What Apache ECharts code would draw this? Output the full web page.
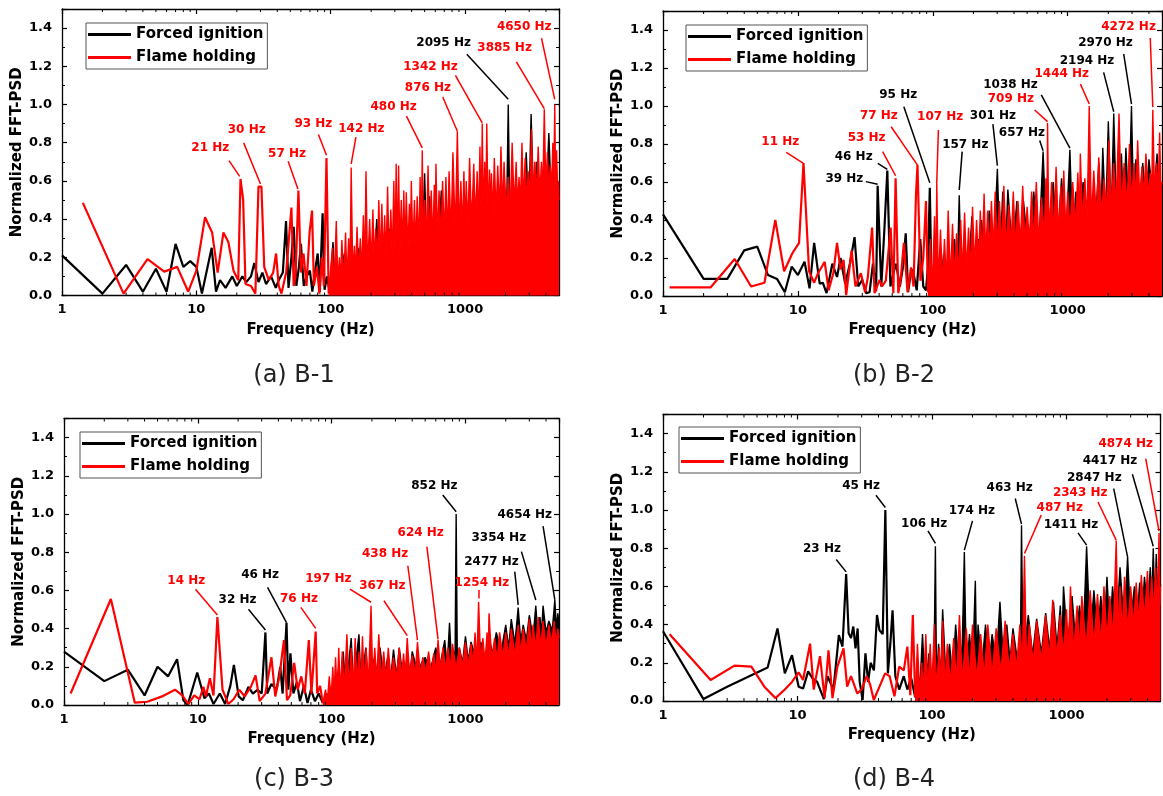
<!DOCTYPE html>
<html><head><meta charset="utf-8">
<script src="https://cdn.jsdelivr.net/npm/echarts@6/dist/echarts.min.js"></script>
<style>html,body{margin:0;padding:0;background:#fff}#c{width:1163px;height:796px}</style>
</head><body><div id="c"></div>
<script>
// ---------------- DATA ----------------
const seriesNames = ['Forced ignition', 'Flame holding'];
const xTickLabels = [1, 10, 100, 1000];
const xMinorTicks = [2,3,4,5,6,7,8,9,20,30,40,50,60,70,80,90,200,300,400,500,600,700,800,900,2000,3000,4000];
const captions = ['(a) B-1', '(b) B-2', '(c) B-3', '(d) B-4'];

// (a) B-1
const aBlackLow = [[1,0.21],[2,0.01],[3,0.16],[4,0.02],[5,0.14],[6,0.02],[7,0.27],[8,0.15],[9,0.18],[10,0.15],[11,0.01],[13,0.25],[14,0.02],[15,0.08],[16.5,0.04],[18.5,0.1],[20,0.05],[22,0.1],[23.5,0.07],[25.5,0.1],[27,0.17],[29,0.07],[31,0.12],[33,0.06],[36,0.1],[39,0.04],[41,0.08],[44,0.12],[46.5,0.39],[48.5,0.04],[51,0.2],[53,0.36],[55.5,0.05],[58,0.15],[60,0.27],[63,0.05],[66,0.1],[70,0.13],[73,0.02],[76,0.12],[80,0.22],[83,0.02],[87,0.43],[90,0.03],[94,0.1],[98,0.02]];
const aBlackHi = [[98,0.02],[104,0.28],[108,0.03],[113,0.15],[118,0.04],[126,0.22],[132,0.05],[140,0.18],[148,0.06],[160,0.25],[168,0.07],[176,0.3],[186,0.08],[198,0.22],[208,0.09],[220,0.4],[232,0.1],[245,0.28],[258,0.12],[272,0.35],[290,0.13],[310,0.3],[330,0.14],[352,0.36],[375,0.16],[400,0.33],[425,0.17],[450,0.4],[475,0.18],[500,0.64],[520,0.19],[545,0.52],[570,0.2],[600,0.53],[630,0.21],[665,0.55],[700,0.22],[760,0.45],[820,0.24],[900,0.48],[960,0.25],[1010,0.5],[1080,0.27],[1160,0.58],[1240,0.29],[1330,0.5],[1420,0.3],[1520,0.55],[1620,0.32],[1750,0.5],[1850,0.34],[1960,0.58],[2030,0.36],[2095,1.0],[2160,0.37],[2260,0.62],[2400,0.38],[2550,0.55],[2700,0.4],[2850,0.75],[2980,0.42],[3100,0.95],[3250,0.44],[3400,0.7],[3600,0.45],[3800,0.65],[4000,0.47],[4200,0.85],[4400,0.48],[4550,0.65],[4750,0.5],[5000,0.55]];
const aRedLow = [[1.43,0.485],[2.87,0.01],[4.33,0.19],[5.77,0.125],[7.2,0.15],[8.7,0.02],[10,0.13],[11.6,0.41],[13.1,0.33],[14.4,0.12],[15.9,0.33],[17.3,0.28],[18.9,0.13],[20.5,0.08],[21.3,0.61],[22.3,0.5],[23.2,0.06],[25.5,0.05],[27.5,0.01],[29,0.57],[30.5,0.57],[32,0.15],[34.6,0.08],[37.3,0.12],[39.2,0.22],[41,0.05],[43,0.01],[46.6,0.12],[51,0.46],[53,0.05],[54.7,0.1],[57.5,0.55],[60,0.12],[62.8,0.22],[66,0.05],[69.6,0.33],[72.6,0.445],[75,0.05],[79,0.15],[82.4,0.01],[86,0.2],[89,0.05],[93,0.72],[96.5,0.01]];
const aRedHi = [[96.5,0.01],[103,0.25],[106,0.05],[110,0.39],[113,0.06],[116,0.2],[118,0.05],[121,0.29],[125,0.07],[129,0.33],[132,0.08],[136,0.3],[139,0.09],[142,0.67],[146,0.1],[150,0.26],[153,0.1],[157,0.36],[161,0.11],[166,0.3],[170,0.12],[175,0.42],[179,0.13],[183,0.65],[188,0.14],[195,0.4],[200,0.15],[206,0.45],[211,0.16],[216,0.35],[222,0.17],[228,0.5],[234,0.17],[240,0.48],[246,0.18],[252,0.42],[258,0.18],[265,0.57],[272,0.19],[280,0.45],[287,0.2],[295,0.6],[301,0.2],[307,0.69],[313,0.21],[320,0.68],[327,0.21],[335,0.5],[342,0.22],[350,0.55],[357,0.22],[365,0.54],[375,0.23],[385,0.48],[391,0.23],[398,0.6],[409,0.24],[420,0.5],[430,0.24],[440,0.52],[452,0.25],[463,0.62],[471,0.25],[480,0.76],[490,0.26],[500,0.5],[515,0.26],[530,0.68],[545,0.27],[560,0.55],[575,0.27],[590,0.58],[598,0.28],[607,0.69],[623,0.28],[640,0.55],[660,0.29],[680,0.6],[700,0.3],[720,0.62],[740,0.3],[760,0.65],[786,0.31],[812,0.75],[845,0.32],[876,0.86],[903,0.33],[930,0.6],[955,0.33],[980,0.65],[1000,0.34],[1020,0.6],[1050,0.35],[1080,0.72],[1120,0.36],[1160,0.69],[1195,0.37],[1230,0.65],[1260,0.38],[1290,0.78],[1316,0.38],[1342,0.9],[1370,0.39],[1400,0.7],[1425,0.39],[1450,0.9],[1485,0.4],[1520,0.66],[1545,0.4],[1570,0.64],[1610,0.41],[1650,0.72],[1700,0.42],[1750,0.68],[1800,0.43],[1850,0.78],[1900,0.43],[1950,0.7],[2020,0.44],[2095,0.62],[2170,0.45],[2240,0.8],[2320,0.46],[2400,0.7],[2460,0.46],[2520,0.62],[2580,0.47],[2650,0.8],[2720,0.48],[2800,0.72],[2870,0.48],[2950,0.65],[3030,0.5],[3120,0.87],[3210,0.5],[3300,0.7],[3400,0.52],[3500,0.78],[3600,0.52],[3700,0.7],[3790,0.54],[3885,0.975],[3990,0.55],[4100,0.75],[4200,0.55],[4300,0.68],[4400,0.55],[4500,0.8],[4570,0.56],[4650,1.0],[4720,0.56],[4800,0.76],[4880,0.56],[4950,0.6],[5000,0.5]];
const aNotes = [['21 Hz','r',21],['30 Hz','r',30],['57 Hz','r',57],['93 Hz','r',93],['142 Hz','r',142],['480 Hz','r',480],['876 Hz','r',876],['1342 Hz','r',1342],['2095 Hz','k',2095],['3885 Hz','r',3885],['4650 Hz','r',4650]];

// (b) B-2
const bBlackLow = [[1,0.43],[2,0.09],[3,0.09],[4,0.24],[5,0.26],[6,0.11],[7,0.09],[8,0.02],[9,0.155],[10,0.11],[11.2,0.18],[12.2,0.04],[13.2,0.28],[14.5,0.065],[15.3,0.07],[16.3,0.015],[18,0.17],[19.5,0.1],[20.7,0.2],[22.4,0.065],[24.3,0.17],[26.3,0.31],[28,0.05],[30,0.085],[32,0.015],[34,0.02],[36,0.17],[38,0.025],[39,0.58],[41.5,0.05],[43.6,0.33],[46,0.66],[48.5,0.05],[51,0.12],[53.5,0.17],[57,0.05],[60,0.15],[63,0.33],[65.6,0.02],[68,0.1],[71,0.14],[76,0.03],[80.7,0.3],[85,0.05],[89,0.03],[92,0.15],[95,0.57],[98,0.03]];
const bBlackHi = [[98,0.03],[104,0.2],[108,0.03],[115,0.25],[122,0.04],[130,0.2],[138,0.05],[145,0.3],[151,0.06],[157,0.53],[163,0.07],[172,0.3],[182,0.08],[195,0.42],[205,0.1],[218,0.3],[224,0.12],[230,0.4],[245,0.14],[262,0.45],[280,0.18],[301,0.67],[315,0.2],[330,0.55],[345,0.2],[360,0.56],[390,0.22],[420,0.5],[445,0.23],[470,0.5],[510,0.24],[560,0.55],[610,0.25],[657,0.76],[700,0.26],[780,0.6],[840,0.28],[900,0.62],[970,0.29],[1038,0.77],[1090,0.3],[1150,0.55],[1220,0.32],[1300,0.6],[1400,0.34],[1500,0.5],[1600,0.36],[1700,0.7],[1760,0.38],[1820,0.78],[1910,0.39],[2000,0.92],[2100,0.4],[2194,0.96],[2300,0.42],[2500,0.75],[2600,0.44],[2700,0.78],[2830,0.45],[2970,1.0],[3080,0.47],[3200,0.72],[3400,0.48],[3600,0.7],[3800,0.49],[4000,0.72],[4300,0.5],[4600,0.75],[4800,0.52],[5000,0.6]];
const bRedLow = [[1.12,0.045],[1.6,0.045],[2.25,0.045],[3.4,0.195],[4.5,0.05],[5.65,0.07],[6.8,0.4],[7.9,0.13],[9.1,0.225],[10.2,0.28],[11,0.7],[12.1,0.13],[13.2,0.07],[14.1,0.12],[15.8,0.18],[16.9,0.03],[18.3,0.12],[19.5,0.28],[20.7,0.14],[21.8,0.19],[22.8,0.005],[25,0.24],[26.7,0.05],[29.3,0.12],[31.5,0.02],[33,0.1],[35.5,0.36],[37,0.015],[40.3,0.085],[42,0.05],[44.8,0.08],[48.7,0.36],[51,0.015],[53,0.62],[55.5,0.015],[58,0.1],[61,0.28],[65,0.02],[69,0.15],[72,0.05],[75,0.53],[77,0.69],[81,0.08],[85,0.2],[89,0.5],[92,0.02]];
const bRedHi = [[92,0.02],[96,0.3],[99,0.03],[103,0.42],[105,0.04],[107,0.6],[110,0.05],[114,0.35],[118,0.06],[122,0.3],[126,0.07],[130,0.45],[135,0.08],[140,0.38],[145,0.09],[150,0.33],[155,0.1],[161,0.4],[166,0.11],[172,0.44],[178,0.12],[184,0.36],[190,0.13],[197,0.47],[204,0.15],[211,0.4],[218,0.17],[225,0.45],[232,0.19],[240,0.54],[247,0.21],[255,0.45],[263,0.23],[272,0.5],[281,0.24],[290,0.55],[300,0.25],[312,0.5],[324,0.25],[336,0.58],[350,0.26],[365,0.48],[380,0.26],[395,0.55],[410,0.26],[428,0.5],[445,0.27],[464,0.58],[482,0.27],[500,0.47],[520,0.28],[540,0.55],[560,0.28],[585,0.6],[610,0.29],[640,0.52],[670,0.3],[690,0.62],[700,0.3],[709,0.91],[725,0.31],[760,0.6],[790,0.31],[820,0.68],[855,0.32],[890,0.58],[910,0.33],[935,0.66],[970,0.33],[1000,0.55],[1040,0.35],[1090,0.6],[1140,0.36],[1190,0.65],[1220,0.37],[1240,0.75],[1290,0.38],[1340,0.62],[1390,0.39],[1444,1.0],[1500,0.4],[1560,0.66],[1630,0.41],[1700,0.73],[1780,0.42],[1860,0.62],[1940,0.44],[2020,0.82],[2100,0.45],[2194,0.7],[2280,0.46],[2400,0.96],[2500,0.47],[2620,0.7],[2750,0.48],[2870,0.8],[2970,0.5],[3100,0.7],[3200,0.5],[3300,0.82],[3420,0.51],[3550,0.68],[3680,0.52],[3800,0.75],[3950,0.53],[4100,0.65],[4200,0.54],[4272,0.98],[4400,0.55],[4550,0.7],[4700,0.56],[4800,0.86],[4900,0.57],[5000,0.6]];
const bNotes = [['11 Hz','r',11],['39 Hz','k',39],['46 Hz','k',46],['53 Hz','r',53],['77 Hz','r',77],['95 Hz','k',95],['107 Hz','r',107],['157 Hz','k',157],['301 Hz','k',301],['657 Hz','k',657],['709 Hz','r',709],['1038 Hz','k',1038],['1444 Hz','r',1444],['2194 Hz','k',2194],['2970 Hz','k',2970],['4272 Hz','r',4272]];

// (c) B-3
const cBlackLow = [[1,0.28],[2,0.125],[3,0.185],[4,0.05],[5,0.2],[6,0.15],[7,0.24],[7.8,0.025],[8.4,0.0],[9.9,0.17],[11.2,0.035],[12.1,0.06],[13.1,0.005],[14.6,0.06],[16,0.005],[17.5,0.1],[18.6,0.21],[20.2,0.045],[21.7,0.025],[23.9,0.095],[25.8,0.06],[27.9,0.08],[30,0.06],[32,0.38],[33,0.06],[35.5,0.11],[38.8,0.08],[41.3,0.2],[43,0.06],[46,0.43],[47.5,0.08],[49.2,0.27],[51.8,0.06],[55,0.12],[58,0.02],[62,0.1],[66,0.01],[70,0.08],[75,0.02],[80,0.06],[86,0.01]];
const cBlackHi = [[86,0.01],[92,0.06],[96,0.02],[100,0.1],[106,0.03],[113,0.2],[118,0.05],[122,0.28],[128,0.06],[134,0.22],[140,0.35],[146,0.08],[153,0.25],[160,0.37],[166,0.09],[173,0.2],[180,0.3],[188,0.1],[198,0.2],[210,0.25],[220,0.12],[230,0.3],[245,0.13],[262,0.25],[276,0.14],[290,0.29],[305,0.15],[320,0.3],[340,0.15],[370,0.25],[385,0.16],[400,0.28],[440,0.17],[470,0.22],[500,0.25],[545,0.18],[600,0.3],[640,0.19],[700,0.34],[730,0.2],[760,0.43],[790,0.2],[820,0.28],[835,0.2],[852,1.0],[870,0.21],[900,0.3],[950,0.22],[1000,0.36],[1050,0.23],[1100,0.33],[1200,0.24],[1300,0.33],[1400,0.25],[1500,0.35],[1600,0.27],[1700,0.38],[1850,0.28],[2000,0.42],[2100,0.3],[2200,0.45],[2340,0.32],[2477,0.51],[2590,0.33],[2700,0.42],[2850,0.34],[3000,0.47],[3200,0.35],[3354,0.52],[3480,0.36],[3600,0.46],[3700,0.37],[3800,0.52],[4000,0.38],[4200,0.44],[4450,0.39],[4654,0.55],[4780,0.4],[4900,0.48],[5000,0.42]];
const cRedLow = [[1.12,0.06],[2.24,0.555],[3.38,0.012],[4.2,0.017],[5.4,0.045],[6.75,0.08],[7.65,0.05],[8.5,0.005],[9.4,0.05],[10.3,0.03],[11,0.095],[11.5,0.045],[12.3,0.14],[13.1,0.05],[14,0.46],[15.3,0.08],[16.9,0.005],[18.5,0.03],[20.4,0.08],[22.4,0.045],[24.9,0.095],[27,0.155],[29,0.02],[32,0.06],[35.5,0.25],[37.9,0.045],[40.7,0.15],[44,0.34],[46.4,0.025],[49,0.05],[52.5,0.22],[55.7,0.08],[59.3,0.15],[63,0.06],[67.5,0.34],[70.6,0.06],[76,0.385],[78,0.06],[82,0.1],[86,0.01]];
const cRedHi = [[86,0.01],[90,0.08],[93,0.02],[96,0.15],[99,0.03],[102,0.2],[104,0.04],[107,0.25],[110,0.05],[113,0.3],[116,0.06],[120,0.28],[124,0.07],[130,0.37],[135,0.08],[140,0.3],[145,0.09],[150,0.35],[155,0.1],[160,0.28],[165,0.1],[170,0.36],[175,0.11],[181,0.3],[188,0.11],[197,0.52],[203,0.12],[210,0.3],[217,0.12],[225,0.37],[235,0.13],[245,0.28],[255,0.13],[265,0.3],[277,0.14],[290,0.25],[305,0.14],[320,0.3],[333,0.15],[345,0.27],[355,0.15],[367,0.35],[383,0.15],[400,0.26],[420,0.16],[438,0.33],[460,0.16],[480,0.25],[505,0.17],[530,0.28],[555,0.17],[580,0.27],[600,0.17],[624,0.34],[650,0.18],[680,0.3],[710,0.18],[740,0.3],[770,0.19],[800,0.32],[850,0.19],[900,0.3],[950,0.2],[1000,0.33],[1050,0.2],[1100,0.32],[1140,0.21],[1180,0.38],[1215,0.21],[1254,0.54],[1300,0.22],[1350,0.35],[1400,0.22],[1450,0.38],[1475,0.23],[1500,0.48],[1570,0.23],[1650,0.35],[1720,0.24],[1800,0.38],[1900,0.25],[2000,0.38],[2100,0.25],[2200,0.4],[2330,0.26],[2477,0.42],[2590,0.27],[2700,0.4],[2850,0.28],[3000,0.45],[3100,0.29],[3200,0.42],[3350,0.3],[3500,0.46],[3650,0.3],[3800,0.44],[4000,0.31],[4200,0.42],[4400,0.32],[4600,0.44],[4750,0.32],[4900,0.4],[5000,0.35]];
const cNotes = [['14 Hz','r',14],['32 Hz','k',32],['46 Hz','k',46],['76 Hz','r',76],['197 Hz','r',197],['367 Hz','r',367],['438 Hz','r',438],['624 Hz','r',624],['852 Hz','k',852],['1254 Hz','r',1254],['2477 Hz','k',2477],['3354 Hz','k',3354],['4654 Hz','k',4654]];

// (d) B-4
const dBlackLow = [[1,0.365],[2,0.01],[3,0.075],[6,0.175],[7.1,0.38],[8.05,0.145],[9.1,0.24],[10.2,0.075],[11,0.065],[12,0.155],[12.9,0.12],[14,0.1],[15.7,0.01],[16.7,0.13],[18.5,0.06],[20.3,0.345],[21.6,0.285],[23,0.665],[24,0.355],[25,0.33],[26,0.39],[27,0.275],[28,0.38],[29,0.1],[30.5,0.005],[32,0.25],[33.5,0.1],[35,0.2],[37,0.16],[39,0.45],[40.7,0.37],[43,0.35],[45,1.0],[47,0.145],[49,0.3],[50.9,0.475],[53.4,0.13],[57,0.06],[61.7,0.13],[65.6,0.06],[70,0.12],[75,0.02]];
const dBlackHi = [[75,0.02],[78,0.2],[81,0.05],[85,0.35],[89,0.06],[95,0.25],[100,0.1],[104,0.3],[106,0.81],[108,0.1],[112,0.3],[116,0.11],[120,0.48],[127,0.12],[135,0.3],[142,0.13],[150,0.4],[160,0.14],[168,0.3],[174,0.78],[180,0.15],[190,0.35],[200,0.16],[210,0.63],[215,0.17],[220,0.4],[235,0.18],[250,0.4],[265,0.19],[280,0.35],[300,0.2],[320,0.52],[340,0.21],[360,0.4],[380,0.21],[400,0.38],[430,0.22],[455,0.3],[463,0.92],[475,0.22],[520,0.45],[560,0.24],[600,0.43],[650,0.25],[700,0.46],[750,0.27],[800,0.52],[850,0.28],[900,0.5],[925,0.29],[950,0.6],[1020,0.3],[1100,0.55],[1170,0.31],[1250,0.5],[1330,0.32],[1411,0.81],[1500,0.33],[1600,0.58],[1700,0.34],[1800,0.55],[1900,0.35],[2000,0.65],[2100,0.36],[2200,0.6],[2350,0.38],[2500,0.7],[2680,0.4],[2847,0.755],[3000,0.42],[3200,0.6],[3350,0.43],[3500,0.62],[3650,0.45],[3800,0.65],[4000,0.48],[4200,0.7],[4300,0.49],[4417,0.8],[4530,0.5],[4650,0.77],[4780,0.52],[4900,0.7],[5000,0.6]];
const dRedLow = [[1.12,0.35],[2.26,0.11],[3.4,0.185],[4.54,0.18],[5.67,0.075],[6.86,0.015],[8.05,0.06],[9.1,0.1],[10.2,0.15],[11,0.11],[12.4,0.3],[13.2,0.06],[14.7,0.235],[15.9,0.015],[17,0.265],[18.2,0.015],[19.8,0.18],[22,0.275],[23.4,0.075],[25,0.13],[27.8,0.04],[30,0.06],[32.7,0.13],[34.7,0.085],[36.9,0.005],[40.7,0.075],[44.8,0.145],[48.4,0.13],[52.6,0.025],[57,0.18],[61.7,0.16],[65.6,0.285],[69,0.03],[72,0.45],[75,0.02]];
const dRedHi = [[75,0.02],[78,0.3],[81,0.03],[84,0.2],[86,0.04],[90,0.35],[93,0.05],[97,0.3],[100,0.05],[104,0.4],[108,0.06],[113,0.28],[116,0.07],[120,0.42],[125,0.08],[130,0.3],[137,0.09],[145,0.33],[152,0.1],[160,0.45],[168,0.1],[180,0.38],[190,0.11],[200,0.4],[215,0.12],[230,0.35],[245,0.13],[260,0.4],[280,0.14],[300,0.38],[325,0.15],[350,0.42],[375,0.16],[400,0.35],[425,0.17],[450,0.4],[470,0.18],[487,0.76],[505,0.19],[530,0.4],[565,0.2],[600,0.42],[650,0.21],[700,0.45],[745,0.22],[790,0.53],[845,0.23],[900,0.45],[950,0.24],[1000,0.48],[1035,0.25],[1070,0.6],[1130,0.26],[1200,0.5],[1250,0.27],[1300,0.55],[1400,0.28],[1500,0.58],[1600,0.29],[1700,0.56],[1800,0.3],[1900,0.6],[2000,0.32],[2100,0.55],[2220,0.33],[2343,0.84],[2420,0.34],[2500,0.6],[2600,0.35],[2700,0.65],[2850,0.37],[3000,0.6],[3150,0.39],[3300,0.62],[3450,0.41],[3600,0.66],[3800,0.43],[4000,0.68],[4150,0.45],[4300,0.65],[4450,0.46],[4600,0.7],[4750,0.47],[4874,0.88],[4950,0.5],[5000,0.6]];
const dNotes = [['23 Hz','k',23],['45 Hz','k',45],['106 Hz','k',106],['174 Hz','k',174],['463 Hz','k',463],['487 Hz','r',487],['1411 Hz','k',1411],['2343 Hz','r',2343],['2847 Hz','k',2847],['4417 Hz','k',4417],['4874 Hz','r',4874]];

// ---------------- LAYOUT (label anchor / leader start / leader end value) ----------------
// [textF, textV, leaderStartF, leaderStartV, leaderEndV]
const aNoteLayout = [[12.7,0.773,17.5,0.706,0.624],[23.7,0.869,22.5,0.799,0.584],[47.3,0.741,48.2,0.703,0.558],[74.3,0.901,81,0.843,0.734],[169,0.874,154,0.829,0.689],[294,0.986,366,0.939,0.773],[529,1.085,682,1.039,0.86],[553,1.196,847,1.152,0.904],[692,1.324,1030,1.263,1.027],[1968,1.294,2410,1.223,0.978],[2754,1.408,3705,1.347,1.027]];
const bNoteLayout = [[7.4,0.812,8.2,0.756,0.698],[22.1,0.616,31.9,0.602,0.588],[25.9,0.73,39.1,0.698,0.667],[32.3,0.833,42.5,0.76,0.633],[39.8,0.947,49.1,0.891,0.689],[55.4,1.061,61,0.996,0.596],[113.5,0.944,110,0.874,0.6],[174,0.798,165,0.76,0.558],[279,0.947,279,0.905,0.686],[458,0.861,620,0.818,0.765],[379,1.04,569,0.979,0.918],[377,1.111,637,1.058,0.778],[903,1.168,1241,1.116,1.011],[1390,1.239,1846,1.177,0.97],[1905,1.33,2600,1.274,1.01],[2826,1.417,4093,1.358,0.994]];
const cNoteLayout = [[8.2,0.649,9.6,0.606,0.471],[19.8,0.553,23.9,0.501,0.393],[29.2,0.681,33.2,0.616,0.431],[57,0.558,58.9,0.511,0.401],[94.5,0.658,137,0.607,0.538],[239,0.625,246,0.546,0.363],[251,0.79,371,0.729,0.34],[463,0.902,515,0.829,0.344],[585,1.147,676,1.099,1.012],[1327,0.637,1256,0.602,0.558],[1566,0.747,2335,0.698,0.524],[1775,0.873,2619,0.803,0.55],[2773,0.995,3800,0.937,0.55]];
const dNoteLayout = [[15.2,0.798,19.4,0.741,0.676],[29.7,1.126,38.3,1.077,1.013],[87.5,0.929,93.3,0.891,0.825],[198,0.995,200,0.943,0.79],[378,1.117,416,1.06,0.926],[891,1.013,649,0.973,0.772],[1079,0.924,1218,0.88,0.816],[1265,1.091,1715,1.042,0.842],[1610,1.17,2244,1.112,0.755],[2104,1.255,3090,1.187,0.81],[2755,1.344,3882,1.269,0.89]];

const panels = [
  {grid:{left:62, top:9, width:497, height:286.5}, legend:[86, 23], cap:[294,376],
   bl:aBlackLow, bh:aBlackHi, rl:aRedLow, rh:aRedHi, notes:aNotes, lay:aNoteLayout},
  {grid:{left:663, top:11, width:499, height:285}, legend:[686, 25], cap:[894,376],
   bl:bBlackLow, bh:bBlackHi, rl:bRedLow, rh:bRedHi, notes:bNotes, lay:bNoteLayout},
  {grid:{left:64, top:418.5, width:495, height:286.5}, legend:[80, 432], cap:[294,780],
   bl:cBlackLow, bh:cBlackHi, rl:cRedLow, rh:cRedHi, notes:cNotes, lay:cNoteLayout},
  {grid:{left:663, top:414.5, width:497.5, height:286.5}, legend:[679, 427], cap:[894,780],
   bl:dBlackLow, bh:dBlackHi, rl:dRedLow, rh:dRedHi, notes:dNotes, lay:dNoteLayout}
];

// ---------------- CHART ----------------
const F = 'DejaVu Sans';
const BLACK = '#000000', RED = '#ff0000';
const col = k => k === 'r' ? RED : BLACK;
const chart = echarts.init(document.getElementById('c'), null, {renderer:'canvas'});
const fmtLog = v => {
  const l = Math.log10(v), r = Math.round(l);
  return (Math.abs(l - r) < 1e-6 && xTickLabels.indexOf(Math.round(v)) >= 0) ? String(Math.round(v)) : '';
};
const option = {animation:false, backgroundColor:'#fff', grid:[], xAxis:[], yAxis:[], legend:[], series:[], graphic:[]};
const axLine = {show:true, onZero:false, lineStyle:{color:'#000', width:1.3}};
panels.forEach((p, i) => {
  option.grid.push(Object.assign({}, p.grid));
  const xBase = {type:'log', logBase:10, min:1, max:5000, interval:1, gridIndex:i,
    axisLine:axLine, axisTick:{show:true, inside:true, length:5, lineStyle:{color:'#000', width:1.2}},
    splitLine:{show:false}, minorTick:{show:false}, minorSplitLine:{show:false}};
  option.xAxis.push(Object.assign({}, xBase, {position:'bottom', name:'Frequency (Hz)', nameLocation:'middle', nameGap:27,
    nameTextStyle:{fontFamily:F, fontWeight:'bold', fontSize:15, color:'#000'},
    axisLabel:{formatter:fmtLog, fontFamily:F, fontWeight:'bold', fontSize:13, color:'#000', margin:8, showMaxLabel:false}}));
  option.xAxis.push(Object.assign({}, xBase, {position:'top', axisLabel:{show:false}}));
  const yBase = {type:'value', min:0, max:1.5, interval:0.2, gridIndex:i,
    axisLine:axLine, axisTick:{show:true, inside:true, length:5, lineStyle:{color:'#000', width:1.2}},
    minorTick:{show:true, splitNumber:2, length:3, lineStyle:{color:'#000', width:1}},
    splitLine:{show:false}};
  option.yAxis.push(Object.assign({}, yBase, {position:'left', name:'Normalized FFT-PSD', nameLocation:'middle', nameGap:35, nameRotate:90,
    nameTextStyle:{fontFamily:F, fontWeight:'bold', fontSize:15, color:'#000'},
    axisLabel:{formatter:v => v.toFixed(1), fontFamily:F, fontWeight:'bold', fontSize:13, color:'#000', margin:10, showMaxLabel:false}}));
  option.yAxis.push(Object.assign({}, yBase, {position:'right', axisLabel:{show:false}}));

  const mk = (name, color, data, width, area, z) => ({
    type:'line', name, xAxisIndex:2*i, yAxisIndex:2*i, data, symbol:'none', showSymbol:false, silent:true, z,
    lineStyle:{color, width}, itemStyle:{color}, areaStyle: area ? {color, opacity:1} : null
  });
  option.series.push(mk(seriesNames[0], BLACK, p.bl, 2.2, false, 2));
  option.series.push(mk(seriesNames[0], BLACK, p.bh, 1.4, true, 2));
  option.series.push(mk(seriesNames[1], RED, p.rl, 2.2, false, 3));
  option.series.push(mk(seriesNames[1], RED, p.rh, 1.4, true, 3));

  // minor x ticks (2..9 per decade) on bottom and top
  option.series.push({type:'custom', xAxisIndex:2*i, yAxisIndex:2*i, silent:true, z:4, clip:false,
    data: xMinorTicks.map(v => [v, 0]),
    renderItem: (params, api) => {
      const pt = api.coord([api.value(0), 0]);
      const cs = params.coordSys; const yb = cs.y + cs.height, yt = cs.y;
      return {type:'group', children:[
        {type:'line', shape:{x1:pt[0], y1:yb, x2:pt[0], y2:yb-3}, style:{stroke:'#000', lineWidth:1}},
        {type:'line', shape:{x1:pt[0], y1:yt, x2:pt[0], y2:yt+3}, style:{stroke:'#000', lineWidth:1}}
      ]};
    }});

  // annotation leaders
  option.series.push({type:'lines', coordinateSystem:'cartesian2d', xAxisIndex:2*i, yAxisIndex:2*i, silent:true, z:5,
    data: p.notes.map((n, k) => ({coords:[[p.lay[k][2], p.lay[k][3]], [n[2], p.lay[k][4]]], lineStyle:{color:col(n[1]), width:1.5, opacity:1}})),
    lineStyle:{width:1.5, opacity:1, curveness:0}});
  // annotation texts
  option.series.push({type:'scatter', xAxisIndex:2*i, yAxisIndex:2*i, silent:true, z:6, symbolSize:1,
    itemStyle:{color:'rgba(0,0,0,0)', opacity:1},
    data: p.notes.map((n, k) => ({value:[p.lay[k][0], p.lay[k][1]], label:{formatter:n[0], color:col(n[1])}})),
    label:{show:true, position:'inside', align:'center', verticalAlign:'middle', fontFamily:F, fontWeight:'bold', fontSize:12,
      opacity:1, textBorderWidth:0}});

  option.legend.push({left:p.legend[0], top:p.legend[1], orient:'vertical', icon:'rect', itemWidth:43, itemHeight:3, itemGap:8,
    padding:[4,4,4,2], borderColor:'#555', borderWidth:1, selectedMode:false, backgroundColor:'#fff',
    textStyle:{fontFamily:F, fontWeight:'bold', fontSize:15, color:'#000'},
    data:[{name:seriesNames[0], itemStyle:{color:BLACK}}, {name:seriesNames[1], itemStyle:{color:RED}}]});

  option.graphic.push({type:'text', x:p.cap[0], y:p.cap[1], silent:true,
    style:{text:captions[i], x:0, y:0, textAlign:'center', textVerticalAlign:'middle', font:'24px "DejaVu Sans"', fill:'#222'}});
});
chart.setOption(option);
</script></body></html>
